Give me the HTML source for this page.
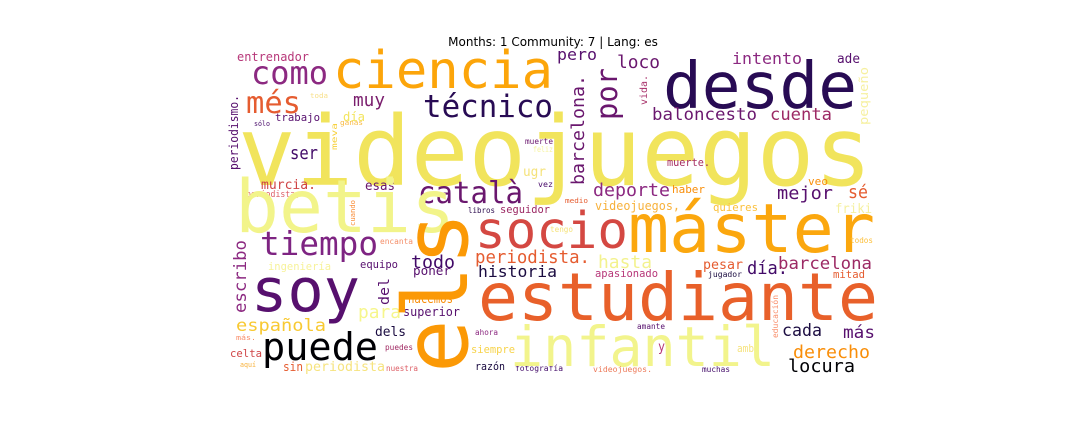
<!DOCTYPE html>
<html><head><meta charset="utf-8"><style>
html,body{margin:0;padding:0;background:#fff;width:1080px;height:432px;overflow:hidden}
svg text{font-family:"DejaVu Sans Mono","Liberation Mono",monospace}
#title{font-family:"DejaVu Sans","Liberation Sans",sans-serif}
</style></head><body>
<svg width="1080" height="432" viewBox="0 0 1080 432" xmlns="http://www.w3.org/2000/svg">
<text id="title" x="553" y="46" font-size="12" text-anchor="middle" fill="#000">Months: 1 Community: 7 | Lang: es</text>
<g lengthAdjust="spacingAndGlyphs">
<text x="238" y="185" font-size="96" textLength="634" lengthAdjust="spacingAndGlyphs" fill="#f1e45c">videojuegos</text>
<text x="237" y="61" font-size="12" textLength="72" lengthAdjust="spacingAndGlyphs" fill="#b73779">entrenador</text>
<text x="251" y="84" font-size="32" textLength="77" lengthAdjust="spacingAndGlyphs" fill="#8c2981">como</text>
<text x="333" y="88" font-size="52" textLength="220" lengthAdjust="spacingAndGlyphs" fill="#fca50a">ciencia</text>
<text x="246" y="113" font-size="30" textLength="55" lengthAdjust="spacingAndGlyphs" fill="#e55c30">més</text>
<text x="353" y="106" font-size="18" textLength="32" lengthAdjust="spacingAndGlyphs" fill="#7a1d6d">muy</text>
<text x="423" y="117" font-size="31" textLength="130" lengthAdjust="spacingAndGlyphs" fill="#280b54">técnico</text>
<text x="310" y="98" font-size="7" textLength="18" lengthAdjust="spacingAndGlyphs" fill="#f8e08a">toda</text>
<text x="343" y="121" font-size="12" textLength="22" lengthAdjust="spacingAndGlyphs" fill="#f3e55d">día</text>
<text x="275" y="121" font-size="11" textLength="45" lengthAdjust="spacingAndGlyphs" fill="#57106e">trabajo</text>
<text x="254" y="126" font-size="7" textLength="16" lengthAdjust="spacingAndGlyphs" fill="#4a0c6b">sólo</text>
<text x="340" y="125" font-size="7" textLength="23" lengthAdjust="spacingAndGlyphs" fill="#f9b93f">ganas</text>
<text transform="translate(337,150) rotate(-90)" font-size="8" textLength="27" lengthAdjust="spacingAndGlyphs" fill="#f7d13d">meva</text>
<text transform="translate(238,170) rotate(-90)" font-size="12" textLength="75" lengthAdjust="spacingAndGlyphs" fill="#57106e">periodismo.</text>
<text x="290" y="159" font-size="18" textLength="28" lengthAdjust="spacingAndGlyphs" fill="#420a68">ser</text>
<text x="525" y="144" font-size="8" textLength="28" lengthAdjust="spacingAndGlyphs" fill="#6a176e">muerte</text>
<text x="533" y="152" font-size="8" textLength="20" lengthAdjust="spacingAndGlyphs" fill="#f6f3a0">feliz</text>
<text x="523" y="176" font-size="13" textLength="23" lengthAdjust="spacingAndGlyphs" fill="#f5e27a">ugr</text>
<text x="261" y="189" font-size="13" textLength="55" lengthAdjust="spacingAndGlyphs" fill="#cf4446">murcia.</text>
<text x="365" y="190" font-size="13" textLength="30" lengthAdjust="spacingAndGlyphs" fill="#6a176e">esas</text>
<text x="538" y="187" font-size="8" textLength="15" lengthAdjust="spacingAndGlyphs" fill="#4a0c6b">vez</text>
<text x="246" y="197" font-size="9" textLength="54" lengthAdjust="spacingAndGlyphs" fill="#dd5e66">periodista,</text>
<text transform="translate(355,226) rotate(-90)" font-size="7" textLength="26" lengthAdjust="spacingAndGlyphs" fill="#f98e3a">cuando</text>
<text x="468" y="213" font-size="8" textLength="27" lengthAdjust="spacingAndGlyphs" fill="#2b0a4d">libros</text>
<text x="500" y="213" font-size="11" textLength="50" lengthAdjust="spacingAndGlyphs" fill="#9c2964">seguidor</text>
<text x="418" y="203" font-size="30" textLength="105" lengthAdjust="spacingAndGlyphs" fill="#6a176e">català</text>
<text x="235" y="232" font-size="73" textLength="220" lengthAdjust="spacingAndGlyphs" fill="#f2f48a">betis</text>
<text x="557" y="60" font-size="16" textLength="40" lengthAdjust="spacingAndGlyphs" fill="#57106e">pero</text>
<text x="617" y="68" font-size="18" textLength="43" lengthAdjust="spacingAndGlyphs" fill="#6a176e">loco</text>
<text x="732" y="64" font-size="16" textLength="70" lengthAdjust="spacingAndGlyphs" fill="#8c2981">intento</text>
<text x="837" y="63" font-size="13" textLength="23" lengthAdjust="spacingAndGlyphs" fill="#57106e">ade</text>
<text transform="translate(868,125) rotate(-90)" font-size="12" textLength="58" lengthAdjust="spacingAndGlyphs" fill="#f6f0a0">pequeño</text>
<text x="663" y="108" font-size="64" textLength="194" lengthAdjust="spacingAndGlyphs" fill="#280b54">desde</text>
<text transform="translate(617,120) rotate(-90)" font-size="29" textLength="52" lengthAdjust="spacingAndGlyphs" fill="#6a176e">por</text>
<text transform="translate(584,185) rotate(-90)" font-size="18" textLength="110" lengthAdjust="spacingAndGlyphs" fill="#6a176e">barcelona.</text>
<text transform="translate(647,105) rotate(-90)" font-size="10" textLength="30" lengthAdjust="spacingAndGlyphs" fill="#a8326b">vida.</text>
<text x="652" y="120" font-size="17" textLength="105" lengthAdjust="spacingAndGlyphs" fill="#6a176e">baloncesto</text>
<text x="770" y="120" font-size="17" textLength="62" lengthAdjust="spacingAndGlyphs" fill="#9c2964">cuenta</text>
<text x="667" y="166" font-size="11" textLength="43" lengthAdjust="spacingAndGlyphs" fill="#a52c60">muerte.</text>
<text x="593" y="196" font-size="18" textLength="77" lengthAdjust="spacingAndGlyphs" fill="#8c2981">deporte</text>
<text x="672" y="193" font-size="11" textLength="33" lengthAdjust="spacingAndGlyphs" fill="#f98e09">haber</text>
<text x="777" y="199" font-size="18" textLength="56" lengthAdjust="spacingAndGlyphs" fill="#57106e">mejor</text>
<text x="848" y="198" font-size="18" textLength="20" lengthAdjust="spacingAndGlyphs" fill="#e55c30">sé</text>
<text x="808" y="185" font-size="11" textLength="20" lengthAdjust="spacingAndGlyphs" fill="#f98e09">veo</text>
<text x="565" y="203" font-size="7" textLength="23" lengthAdjust="spacingAndGlyphs" fill="#e55c30">medio</text>
<text x="595" y="210" font-size="12" textLength="85" lengthAdjust="spacingAndGlyphs" fill="#f7b13b">videojuegos,</text>
<text x="713" y="211" font-size="11" textLength="45" lengthAdjust="spacingAndGlyphs" fill="#fbc03a">quieres</text>
<text x="835" y="213" font-size="13" textLength="37" lengthAdjust="spacingAndGlyphs" fill="#f5f0a0">friki</text>
<text x="260" y="255" font-size="33" textLength="118" lengthAdjust="spacingAndGlyphs" fill="#7e2482">tiempo</text>
<text transform="translate(246,313) rotate(-90)" font-size="17" textLength="73" lengthAdjust="spacingAndGlyphs" fill="#8c2981">escribo</text>
<text x="251" y="311" font-size="60" textLength="109" lengthAdjust="spacingAndGlyphs" fill="#57106e">soy</text>
<text x="268" y="270" font-size="10.5" textLength="63" lengthAdjust="spacingAndGlyphs" fill="#f7f29a">ingeniería</text>
<text x="380" y="244" font-size="8" textLength="33" lengthAdjust="spacingAndGlyphs" fill="#f48f6a">encanta</text>
<text x="360" y="268" font-size="11" textLength="38" lengthAdjust="spacingAndGlyphs" fill="#57106e">equipo</text>
<text x="411" y="268" font-size="18" textLength="44" lengthAdjust="spacingAndGlyphs" fill="#420a68">todo</text>
<text x="413" y="275" font-size="12" textLength="38" lengthAdjust="spacingAndGlyphs" fill="#57106e">poner</text>
<text transform="translate(389,305) rotate(-90)" font-size="14" textLength="27" lengthAdjust="spacingAndGlyphs" fill="#57106e">del</text>
<text x="475" y="263" font-size="18" textLength="115" lengthAdjust="spacingAndGlyphs" fill="#e55c30">periodista.</text>
<text x="478" y="277" font-size="16" textLength="79" lengthAdjust="spacingAndGlyphs" fill="#1b0c41">historia</text>
<text x="408" y="303" font-size="12" textLength="45" lengthAdjust="spacingAndGlyphs" fill="#f98e09">hacemos</text>
<text x="358" y="318" font-size="18" textLength="43" lengthAdjust="spacingAndGlyphs" fill="#f6f68c">para</text>
<text x="403" y="316" font-size="12" textLength="57" lengthAdjust="spacingAndGlyphs" fill="#57106e">superior</text>
<text x="236" y="331" font-size="17" textLength="90" lengthAdjust="spacingAndGlyphs" fill="#f8c932">española</text>
<text x="375" y="336" font-size="13" textLength="31" lengthAdjust="spacingAndGlyphs" fill="#1b0c41">dels</text>
<text x="475" y="335" font-size="8" textLength="23" lengthAdjust="spacingAndGlyphs" fill="#8c2981">ahora</text>
<text x="236" y="340" font-size="7" textLength="20" lengthAdjust="spacingAndGlyphs" fill="#f98e6a">más.</text>
<text x="262" y="360" font-size="38" textLength="116" lengthAdjust="spacingAndGlyphs" fill="#000004">puede</text>
<text x="230" y="357" font-size="11" textLength="32" lengthAdjust="spacingAndGlyphs" fill="#cf4446">celta</text>
<text x="385" y="350" font-size="8" textLength="28" lengthAdjust="spacingAndGlyphs" fill="#a02a63">puedes</text>
<text x="471" y="353" font-size="11" textLength="44" lengthAdjust="spacingAndGlyphs" fill="#f7d34a">siempre</text>
<text x="240" y="367" font-size="7" textLength="16" lengthAdjust="spacingAndGlyphs" fill="#f8b13a">aquí</text>
<text x="283" y="371" font-size="12" textLength="20" lengthAdjust="spacingAndGlyphs" fill="#e55c30">sin</text>
<text x="305" y="371" font-size="13" textLength="80" lengthAdjust="spacingAndGlyphs" fill="#f6e37e">periodista</text>
<text x="386" y="371" font-size="8" textLength="32" lengthAdjust="spacingAndGlyphs" fill="#dd5e66">nuestra</text>
<text x="475" y="370" font-size="11" textLength="30" lengthAdjust="spacingAndGlyphs" fill="#1b0c41">razón</text>
<text x="515" y="371" font-size="8" textLength="48" lengthAdjust="spacingAndGlyphs" fill="#420a68">fotografía</text>
<text transform="translate(467,373) rotate(-90)" font-size="89" textLength="161" lengthAdjust="spacingAndGlyphs" fill="#fb9906">els</text>
<text x="475" y="248" font-size="51" textLength="153" lengthAdjust="spacingAndGlyphs" fill="#d44842">socio</text>
<text x="628" y="252" font-size="68" textLength="247" lengthAdjust="spacingAndGlyphs" fill="#fba70e">máster</text>
<text x="478" y="320" font-size="66" textLength="400" lengthAdjust="spacingAndGlyphs" fill="#e8602a">estudiante</text>
<text x="510" y="366" font-size="55" textLength="265" lengthAdjust="spacingAndGlyphs" fill="#f2f48c">infantil</text>
<text x="550" y="232" font-size="8" textLength="23" lengthAdjust="spacingAndGlyphs" fill="#f5e27a">tengo</text>
<text x="598" y="268" font-size="18" textLength="54" lengthAdjust="spacingAndGlyphs" fill="#f3f28e">hasta</text>
<text x="703" y="269" font-size="13" textLength="40" lengthAdjust="spacingAndGlyphs" fill="#e55c30">pesar</text>
<text x="747" y="274" font-size="18" textLength="41" lengthAdjust="spacingAndGlyphs" fill="#420a68">día.</text>
<text x="778" y="269" font-size="17" textLength="94" lengthAdjust="spacingAndGlyphs" fill="#9c2964">barcelona</text>
<text x="595" y="277" font-size="10.5" textLength="63" lengthAdjust="spacingAndGlyphs" fill="#b73779">apasionado</text>
<text x="708" y="277" font-size="8" textLength="34" lengthAdjust="spacingAndGlyphs" fill="#1b0c41">jugador</text>
<text x="833" y="278" font-size="11" textLength="32" lengthAdjust="spacingAndGlyphs" fill="#e55c30">mitad</text>
<text x="850" y="243" font-size="7.5" textLength="23" lengthAdjust="spacingAndGlyphs" fill="#fcbf3a">todos</text>
<text transform="translate(778,338) rotate(-90)" font-size="8" textLength="43" lengthAdjust="spacingAndGlyphs" fill="#f98e6a">educación</text>
<text x="637" y="329" font-size="8" textLength="28" lengthAdjust="spacingAndGlyphs" fill="#57106e">amante</text>
<text x="782" y="336" font-size="17" textLength="40" lengthAdjust="spacingAndGlyphs" fill="#1b0c41">cada</text>
<text x="843" y="338" font-size="17" textLength="32" lengthAdjust="spacingAndGlyphs" fill="#57106e">más</text>
<text x="658" y="351" font-size="13" textLength="7" lengthAdjust="spacingAndGlyphs" fill="#b73779">y</text>
<text x="737" y="352" font-size="11" textLength="17" lengthAdjust="spacingAndGlyphs" fill="#f6e37e">amb</text>
<text x="793" y="358" font-size="18" textLength="77" lengthAdjust="spacingAndGlyphs" fill="#f98e09">derecho</text>
<text x="788" y="372" font-size="18" textLength="67" lengthAdjust="spacingAndGlyphs" fill="#000004">locura</text>
<text x="593" y="372" font-size="8" textLength="59" lengthAdjust="spacingAndGlyphs" fill="#ed7a5a">videojuegos.</text>
<text x="702" y="372" font-size="8" textLength="28" lengthAdjust="spacingAndGlyphs" fill="#420a68">muchas</text>
</g>
</svg>
</body></html>
